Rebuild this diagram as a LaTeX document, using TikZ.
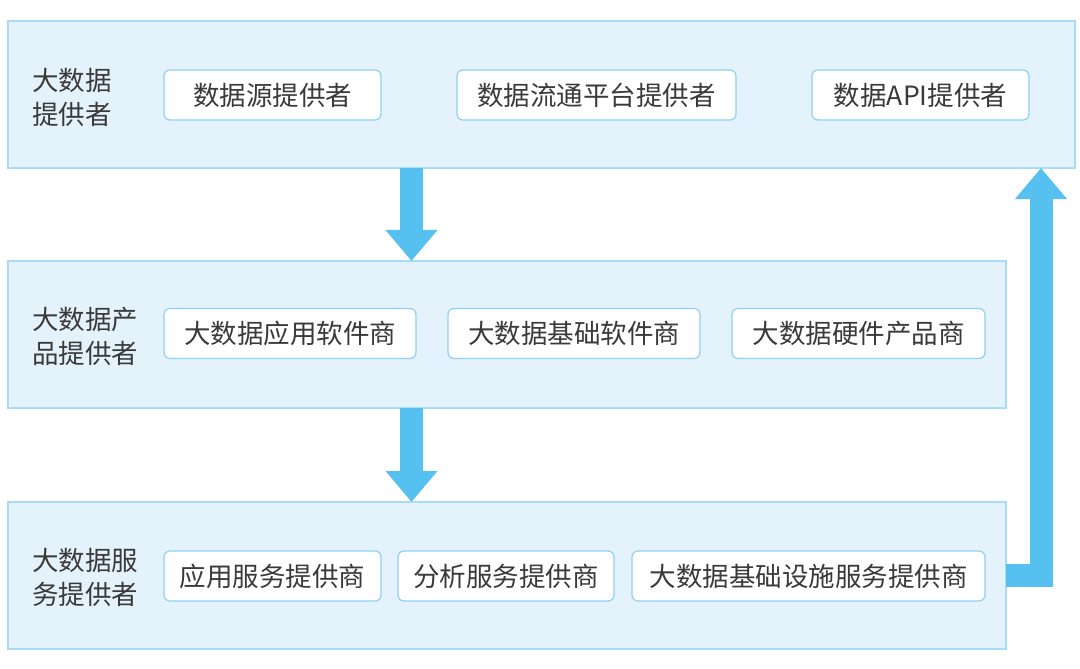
\documentclass[tikz,border=0pt]{standalone}
\usepackage{fontspec}
\newfontfamily\cjk{Noto Sans CJK SC}
\usetikzlibrary{arrows.meta,calc}
\definecolor{panelfill}{HTML}{E4F2FC}
\definecolor{paneldraw}{HTML}{A8DCF6}
\definecolor{boxdraw}{HTML}{8ED2F3}
\definecolor{arrowc}{HTML}{56C1F0}
\definecolor{txt}{HTML}{3A3A3A}
\tikzset{
  panel/.style={draw=paneldraw, fill=panelfill, line width=1.3bp, inner sep=0pt, outer sep=0pt, rectangle},
  item/.style={draw=boxdraw, fill=white, line width=1.2bp, rounded corners=6bp, inner sep=0pt, outer sep=0pt, minimum height=50bp, text=txt, font=\cjk\fontsize{26.5bp}{34bp}\selectfont},
  side/.style={anchor=west, align=left, inner sep=0pt, text=txt, font=\cjk\fontsize{26.5bp}{34bp}\selectfont},
  bigarrow/.style={draw=arrowc, line width=23bp, line join=miter, -{Triangle[width=50bp,length=31bp]}}
}
\begin{document}
\begin{tikzpicture}[x=1bp,y=-1bp]
\useasboundingbox (0,0) rectangle (1080,669);
% panels
\node[panel, minimum width=1067bp, minimum height=147bp] (p1) at (541.5,94.5) {};
\node[panel, minimum width=998bp, minimum height=147bp] (p2) at (507,334.5) {};
\node[panel, minimum width=998bp, minimum height=147bp] (p3) at (507,575.5) {};
% side labels
\node[side] (l1) at (32,97) {大数据\\提供者};
\node[side] (l2) at (32,336) {大数据产\\品提供者};
\node[side] (l3) at (32,577) {大数据服\\务提供者};
% items row 1
\node[item, minimum width=217bp] (a1) at (272.5,95) {数据源提供者};
\node[item, minimum width=279bp] (a2) at (596.5,95) {数据流通平台提供者};
\node[item, minimum width=217bp] (a3) at (920.5,95) {数据API提供者};
% items row 2
\node[item, minimum width=252bp] (b1) at (290,333.5) {大数据应用软件商};
\node[item, minimum width=252bp] (b2) at (574,333.5) {大数据基础软件商};
\node[item, minimum width=253bp] (b3) at (858.5,333.5) {大数据硬件产品商};
% items row 3
\node[item, minimum width=217bp] (c1) at (272.5,576) {应用服务提供商};
\node[item, minimum width=216bp] (c2) at (506,576) {分析服务提供商};
\node[item, minimum width=353bp] (c3) at (808.5,576) {大数据基础设施服务提供商};
% arrows
\coordinate (ax) at (411.5,0);
\coordinate (rx) at (1041,0);
\coordinate (ry) at (0,575);
\draw[bigarrow] (p1.south -| ax) -- (p2.north -| ax);
\draw[bigarrow] (p2.south -| ax) -- (p3.north -| ax);
\draw[bigarrow] (p3.east |- ry) -| (p1.south -| rx);
\end{tikzpicture}
\end{document}
